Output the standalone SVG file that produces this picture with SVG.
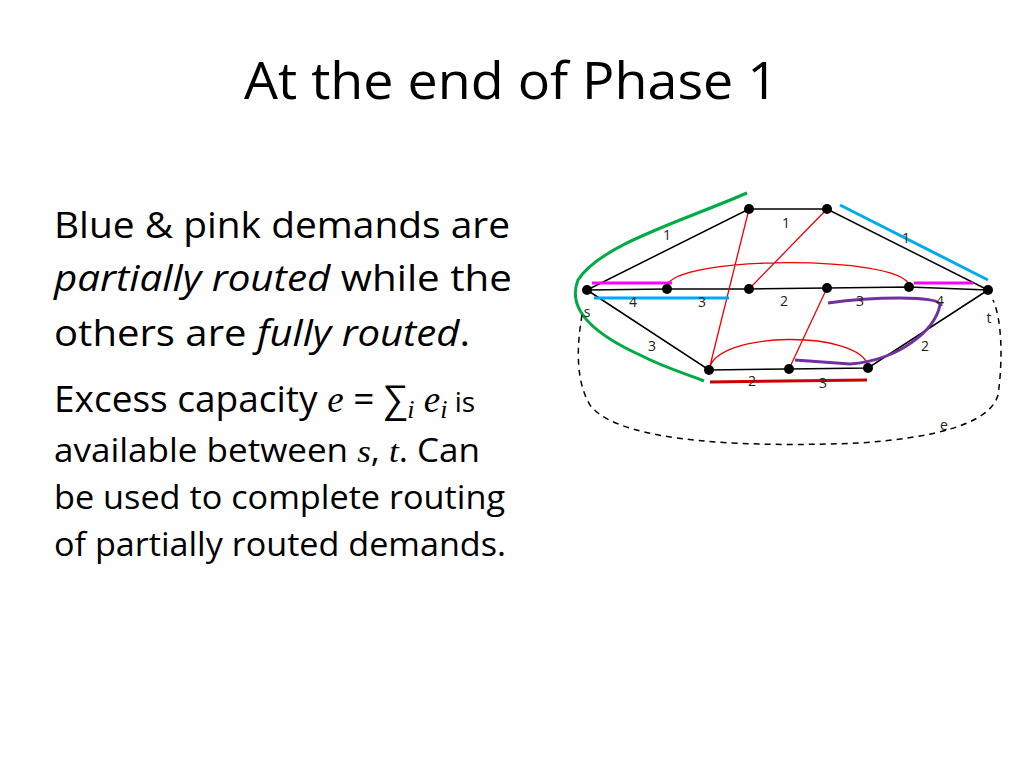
<svg xmlns="http://www.w3.org/2000/svg" width="1024" height="768" viewBox="0 0 1024 768">
<style>
text{font-family:"Open Sans","Liberation Sans",sans-serif;fill:#000}
.b{font-size:37px}.s{font-size:32px}.m{font-family:"Liberation Serif",serif;font-style:italic}
.l{font-size:14px;fill:#222}
.e{stroke:#000;stroke-width:1.5;fill:none}
.r{stroke:#e00;stroke-width:1.3;fill:none}
</style>
<rect width="1024" height="768" fill="#fff"/>
<text x="244" y="99" font-size="52" textLength="534" lengthAdjust="spacingAndGlyphs">At the end of Phase 1</text>
<text class="b" x="54" y="238" textLength="456" lengthAdjust="spacingAndGlyphs">Blue &amp; pink demands are</text>
<text class="b" x="54" y="291" textLength="458" lengthAdjust="spacingAndGlyphs"><tspan font-style="italic">partially routed</tspan> while the</text>
<text class="b" x="54" y="346" textLength="416" lengthAdjust="spacingAndGlyphs">others are <tspan font-style="italic">fully routed</tspan>.</text>
<text class="b" x="54" y="412">Excess capacity <tspan class="m">e</tspan> = ∑<tspan class="m" font-size="26" dy="6">i</tspan><tspan class="m" dy="-6"> e</tspan><tspan class="m" font-size="26" dy="6">i</tspan><tspan font-size="28" dy="-6"> is</tspan></text>
<text class="s" x="54" y="462" textLength="426" lengthAdjust="spacingAndGlyphs">available between <tspan class="m">s</tspan>, <tspan class="m">t</tspan>. Can</text>
<text class="s" x="54" y="509" textLength="451" lengthAdjust="spacingAndGlyphs">be used to complete routing</text>
<text class="s" x="54" y="556" textLength="452" lengthAdjust="spacingAndGlyphs">of partially routed demands.</text>
<g id="connectors">
<path class="e" d="M587,290 L749,209 L827,209 L988,290 M587,290 L667,289 L749,289 L827,288 L909,287 L988,290 M587,290 L709,370 L789,369 L868,368 L988,290"/>
<path class="r" d="M749,209 L709,370 M827,209 L749,289 M827,288 L789,369 M667,286 C675,255 900,255 909,285 M709,370 C715,330 860,330 868,366"/>
<path d="M747,193 C680,222 600,245 578,280 C568,305 585,330 640,355 C665,368 690,375 704,381" stroke="#0a4" stroke-width="3" fill="none"/>
<path d="M592,283 L672,283 M914,283 L973,283" stroke="#f0f" stroke-width="3"/>
<path d="M594,298 L729,298 M840,205 L988,280" stroke="#0ae" stroke-width="3"/>
<path d="M828,303 C870,297 940,295 940,305 C935,330 900,360 850,364 L795,360" stroke="#7030a0" stroke-width="3" fill="none"/>
<path d="M710,382 L867,380" stroke="#c00" stroke-width="3"/>
<path d="M582,315 C577,345 575,380 590,405 C620,445 760,447 860,443 C930,438 990,425 998,395 C1003,360 1002,320 993,300" stroke="#000" stroke-width="1.5" stroke-dasharray="6,5" fill="none"/>
</g>
<g id="nodes" fill="#000">
<circle id="s" cx="587" cy="290" r="5"/><circle id="a" cx="749" cy="209" r="5"/><circle id="b" cx="827" cy="209" r="5"/><circle id="t" cx="988" cy="290" r="5"/>
<circle id="m1" cx="667" cy="289" r="5"/><circle id="m2" cx="749" cy="289" r="5"/><circle id="m3" cx="827" cy="288" r="5"/><circle id="m4" cx="909" cy="287" r="5"/>
<circle id="b1" cx="709" cy="370" r="5"/><circle id="b2" cx="789" cy="369" r="5"/><circle id="b3" cx="868" cy="368" r="5"/>
</g>
<g id="labels" class="l" text-anchor="middle">
<text class="l" x="667" y="240">1</text><text class="l" x="786" y="228">1</text><text class="l" x="906" y="243">1</text>
<text class="l" x="633" y="307">4</text><text class="l" x="702" y="307">3</text><text class="l" x="784" y="306">2</text><text class="l" x="860" y="306">3</text><text class="l" x="940" y="306">4</text>
<text class="l" x="652" y="351">3</text><text class="l" x="925" y="351">2</text><text class="l" x="752" y="386">2</text><text class="l" x="823" y="388">3</text>
<text class="l" x="587" y="317" font-size="16">s</text><text class="l" x="989" y="323" font-size="16">t</text><text class="l" x="944" y="430" font-size="16">e</text>
</g>
</svg>
